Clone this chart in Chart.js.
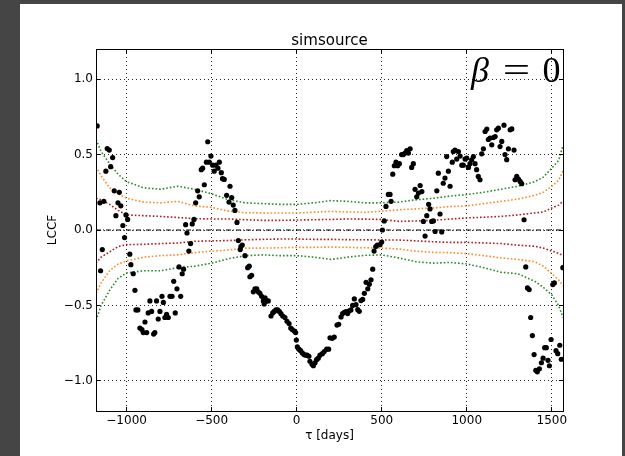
<!DOCTYPE html>
<html>
<head>
<meta charset="utf-8">
<title>simsource</title>
<script src="https://cdn.jsdelivr.net/npm/chart.js@4.4.1/dist/chart.umd.min.js"></script>
<style>
    html, body { margin: 0; padding: 0; }
    body { background: #454545; width: 625px; height: 456px; overflow: hidden; position: relative; }
    #fig { position: absolute; left: 20px; top: 4px; width: 602px; height: 452px; background: #fff; }
    canvas { display: block; }
</style>
</head>
<body>
<div id="fig"><canvas id="lccfChart" width="602" height="452"></canvas></div>
<script>
// LCCF of the simulated source (lag in days)
const tau = [
    -1173, -1157, -1153, -1143, -1134, -1122, -1114, -1102, -1094, -1082,
    -1073, -1063, -1051, -1043, -1034, -1022, -1012, -1004, -994, -981,
    -975, -961, -951, -945, -934, -922, -910, -902, -892, -882,
    -873, -863, -853, -841, -834, -824, -814, -804, -792, -784,
    -775, -765, -755, -745, -733, -723, -714, -704, -692, -682,
    -673, -665, -653, -645, -634, -624, -614, -604, -594, -582,
    -573, -561, -553, -543, -531, -523, -514, -504, -494, -485,
    -475, -463, -455, -443, -436, -426, -412, -398, -392, -382,
    -373, -363, -351, -343, -332, -328, -320, -304, -288, -279,
    -275, -265, -255, -245, -235, -226, -216, -206, -196, -191,
    -186, -176, -167, -151, -141, -132, -122, -112, -102, -92,
    -82, -69, -57, -45, -35, -26, -14, -6, -2, 4,
    13, 23, 33, 43, 53, 62, 72, 78, 90, 98,
    108, 117, 127, 137, 151, 162, 176, 188, 196, 209,
    221, 237, 247, 261, 270, 280, 290, 300, 309, 319,
    329, 339, 349, 359, 368, 378, 388, 398, 408, 418,
    427, 437, 447, 455, 465, 474, 490, 500, 504, 515,
    525, 539, 549, 555, 565, 574, 584, 594, 604, 617,
    627, 637, 647, 657, 667, 676, 686, 696, 706, 716,
    726, 736, 745, 755, 765, 776, 784, 794, 804, 814,
    824, 833, 843, 853, 862, 872, 882, 892, 902, 915,
    921, 931, 941, 951, 961, 971, 980, 990, 1000, 1010,
    1019, 1029, 1039, 1049, 1058, 1068, 1078, 1088, 1098, 1108,
    1118, 1127, 1137, 1147, 1157, 1167, 1176, 1186, 1196, 1206,
    1219, 1225, 1235, 1245, 1255, 1265, 1278, 1284, 1294, 1304,
    1314, 1323, 1337, 1347, 1357, 1367, 1376, 1386, 1396, 1406,
    1415, 1427, 1439, 1449, 1458, 1468, 1478, 1486, 1496, 1506,
    1515, 1525, 1535, 1547, 1556, 1565
];
const lccf = [
    0.69, 0.18, -0.27, -0.13, 0.19, 0.39, 0.54, 0.53, 0.42, 0.48,
    0.26, 0.095, 0.18, 0.25, 0.16, 0.03, -0.05, 0.10, 0.07, -0.16,
    -0.23, -0.29, -0.40, -0.53, -0.53, -0.65, -0.66, -0.68, -0.61, -0.68,
    -0.55, -0.47, -0.54, -0.69, -0.68, -0.47, -0.59, -0.54, -0.44, -0.48,
    -0.58, -0.56, -0.58, -0.44, -0.44, -0.34, -0.55, -0.39, -0.245, -0.44,
    -0.29, -0.26, 0.035, -0.02, -0.14, -0.09, 0.04, 0.07, 0.18, 0.26,
    0.22, 0.40, 0.41, 0.30, 0.45, 0.585, 0.45, 0.49, 0.43, 0.39,
    0.43, 0.41, 0.45, 0.38, 0.34, 0.335, 0.23, 0.185, 0.29, 0.215,
    0.165, 0.13, 0.05, -0.07, -0.13, -0.11, -0.10, -0.17, -0.25, -0.24,
    -0.31, -0.30, -0.41, -0.39, -0.39, -0.41, -0.42, -0.44, -0.47, -0.49,
    -0.45, -0.47, -0.47, -0.57, -0.55, -0.54, -0.53, -0.53, -0.54, -0.555,
    -0.57, -0.58, -0.605, -0.62, -0.65, -0.66, -0.67, -0.68, -0.73, -0.775,
    -0.79, -0.80, -0.815, -0.826, -0.83, -0.83, -0.837, -0.87, -0.89, -0.90,
    -0.88, -0.86, -0.85, -0.83, -0.82, -0.806, -0.79, -0.79, -0.715, -0.718,
    -0.71, -0.63, -0.625, -0.576, -0.554, -0.546, -0.541, -0.554, -0.536, -0.53,
    -0.50, -0.457, -0.495, -0.528, -0.539, -0.468, -0.46, -0.42, -0.347, -0.39,
    -0.36, -0.33, -0.26, -0.14, -0.11, -0.10, -0.097, -0.08, 0.0, 0.06,
    0.156, 0.236, 0.236, 0.19, 0.37, 0.426, 0.45, 0.426, 0.44, 0.50,
    0.50, 0.51, 0.527, 0.51, 0.538, 0.415, 0.44, 0.27, 0.22, 0.245,
    0.295, 0.255, 0.057, -0.04, 0.095, 0.17, 0.14, 0.057, 0.06, -0.01,
    0.26, 0.377, 0.106, -0.013, 0.31, 0.344, 0.487, 0.39, 0.29, 0.45,
    0.52, 0.53, 0.47, 0.52, 0.49, 0.43, 0.43, 0.47, 0.477, 0.415,
    0.44, 0.465, 0.487, 0.44, 0.40, 0.355, 0.333, 0.505, 0.538, 0.653,
    0.669, 0.60, 0.61, 0.565, 0.613, 0.62, 0.664, 0.675, 0.553, 0.587,
    0.695, 0.50, 0.466, 0.538, 0.664, 0.67, 0.53, 0.333, 0.355, 0.338,
    0.322, 0.307, 0.068, -0.245, -0.384, -0.395, -0.58, -0.70, -0.826, -0.93,
    -0.94, -0.92, -0.88, -0.85, -0.78, -0.78, -0.864, -0.90, -0.726, -0.362,
    -0.351, -0.80, -0.82, -0.764, -0.857, -0.25
];

// significance bands (upper / lower)
const bandTau = [-1180, -1150, -1100, -1050, -1000, -900, -800, -700, -600, -500, -400, -300, -200, -100, 0,
    100, 200, 300, 400, 500, 600, 700, 800, 900, 1000, 1100, 1200, 1300, 1400, 1450, 1500, 1540, 1566];
const greenHi = [0.60, 0.52, 0.44, 0.37, 0.32, 0.28, 0.27, 0.29, 0.27, 0.24, 0.20, 0.18, 0.175, 0.17, 0.17,
    0.18, 0.195, 0.19, 0.18, 0.18, 0.185, 0.20, 0.21, 0.225, 0.235, 0.25, 0.27, 0.29, 0.32, 0.35, 0.41, 0.46, 0.56];
const greenLo = [-0.60, -0.50, -0.40, -0.32, -0.285, -0.27, -0.27, -0.25, -0.24, -0.22, -0.19, -0.17, -0.165, -0.17, -0.17,
    -0.18, -0.195, -0.18, -0.168, -0.165, -0.185, -0.21, -0.22, -0.215, -0.225, -0.25, -0.28, -0.29, -0.34, -0.38, -0.43, -0.50, -0.58];
const orangeHi = [0.42, 0.36, 0.28, 0.24, 0.21, 0.185, 0.18, 0.19, 0.16, 0.15, 0.125, 0.115, 0.113, 0.113, 0.113,
    0.118, 0.123, 0.12, 0.117, 0.125, 0.134, 0.14, 0.146, 0.155, 0.16, 0.175, 0.19, 0.205, 0.23, 0.25, 0.29, 0.33, 0.39];
const orangeLo = [-0.42, -0.35, -0.27, -0.225, -0.205, -0.18, -0.17, -0.165, -0.15, -0.14, -0.133, -0.12, -0.12, -0.118, -0.115,
    -0.115, -0.113, -0.115, -0.118, -0.12, -0.126, -0.14, -0.148, -0.15, -0.157, -0.17, -0.185, -0.195, -0.21, -0.24, -0.29, -0.33, -0.37];
const redHi = [0.21, 0.20, 0.17, 0.13, 0.10, 0.095, 0.09, 0.083, 0.075, 0.073, 0.073, 0.068, 0.064, 0.064, 0.066,
    0.068, 0.07, 0.073, 0.072, 0.07, 0.057, 0.06, 0.064, 0.072, 0.08, 0.085, 0.09, 0.10, 0.113, 0.12, 0.146, 0.165, 0.19];
const redLo = [-0.22, -0.18, -0.145, -0.11, -0.097, -0.095, -0.09, -0.086, -0.075, -0.072, -0.07, -0.065, -0.062, -0.06, -0.06,
    -0.062, -0.062, -0.064, -0.065, -0.066, -0.066, -0.072, -0.078, -0.082, -0.082, -0.086, -0.09, -0.10, -0.108, -0.12, -0.14, -0.155, -0.17];

const xRange = [-1180, 1566];
const yRange = [-1.2, 1.2];
const xTicks = [-1000, -500, 0, 500, 1000, 1500];
const yTicks = [-1.0, -0.5, 0.0, 0.5, 1.0];

const FONT = '"DejaVu Sans", "Bitstream Vera Sans", sans-serif';
const minus = s => String(s).replace('-', '\u2212');

function band(values, color) {
    return {
        type: 'line',
        data: bandTau.map((t, i) => ({ x: t, y: values[i] })),
        borderColor: color,
        borderWidth: 1.6,
        borderDash: [1.6, 2],
        pointRadius: 0,
        tension: 0,
        fill: false
    };
}

// frame, inward ticks, title and beta label (matplotlib look)
const decorations = {
    id: 'decorations',
    afterDraw(chart) {
        const { ctx, chartArea: a, scales } = chart;
        const al = p => Math.round(p - 0.5) + 0.5;
        ctx.save();
        ctx.strokeStyle = '#000';
        ctx.lineWidth = 1;
        ctx.beginPath();
        xTicks.forEach(v => {
            const px = al(scales.x.getPixelForValue(v));
            ctx.moveTo(px, a.bottom); ctx.lineTo(px, a.bottom - 4);
            ctx.moveTo(px, a.top); ctx.lineTo(px, a.top + 4);
        });
        yTicks.forEach(v => {
            const py = al(scales.y.getPixelForValue(v));
            ctx.moveTo(a.left, py); ctx.lineTo(a.left + 4, py);
            ctx.moveTo(a.right, py); ctx.lineTo(a.right - 4, py);
        });
        ctx.stroke();
        ctx.strokeRect(al(a.left), al(a.top), Math.round(a.right - a.left), Math.round(a.bottom - a.top));

        ctx.fillStyle = '#000';
        ctx.font = '15px ' + FONT;
        ctx.textAlign = 'center';
        ctx.textBaseline = 'alphabetic';
        ctx.fillText('simsource', (a.left + a.right) / 2, a.top - 4);

        // beta = 0 in the upper right corner
        const base = a.top + 33;
        ctx.font = 'italic 36px "Liberation Serif", serif';
        ctx.textAlign = 'left';
        ctx.fillText('\u03b2', a.right - 92, base);
        ctx.font = '36px "Liberation Serif", serif';
        ctx.textAlign = 'center';
        ctx.save();
        ctx.translate(a.right - 46.5, base);
        ctx.scale(1.35, 1);
        ctx.fillText('=', 0, 0);
        ctx.restore();
        ctx.fillText('0', a.right - 11.5, base);
        ctx.restore();
    }
};

document.addEventListener('DOMContentLoaded', () => {
    const canvas = document.getElementById('lccfChart');

    new Chart(canvas, {
        type: 'scatter',
        data: {
            datasets: [
                {
                    label: 'LCCF',
                    data: tau.map((t, i) => ({ x: t, y: lccf[i] })),
                    backgroundColor: '#000',
                    borderWidth: 0,
                    pointRadius: 2.6,
                    showLine: false
                },
                band(redHi, '#b01c22'),
                band(redLo, '#b01c22'),
                band(orangeHi, '#ff8a2a'),
                band(orangeLo, '#ff8a2a'),
                band(greenHi, '#2a8a2a'),
                band(greenLo, '#2a8a2a'),
                {
                    type: 'line',
                    data: xRange.map(x => ({ x: x, y: 0 })),
                    borderColor: '#000',
                    borderWidth: 1,
                    borderDash: [5, 2, 1, 2],
                    pointRadius: 0
                }
            ]
        },
        options: {
            responsive: false,
            animation: false,
            devicePixelRatio: 1,
            layout: { padding: { left: 0, top: 45, right: 59, bottom: 0 } },
            plugins: {
                legend: { display: false },
                tooltip: { enabled: false }
            },
            scales: {
                x: {
                    type: 'linear',
                    position: 'bottom',
                    min: xRange[0],
                    max: xRange[1],
                    afterBuildTicks: s => { s.ticks = xTicks.map(v => ({ value: v })); },
                    afterFit: s => { s.height = 45; },
                    grid: { color: 'rgba(0,0,0,0.85)', lineWidth: 1, drawTicks: false },
                    border: { display: false, dash: [1, 3] },
                    ticks: {
                        color: '#000',
                        padding: 2.5,
                        maxRotation: 0,
                        font: { family: FONT, size: 12 },
                        callback: v => minus(v)
                    },
                    title: {
                        display: true,
                        text: '\u03c4 [days]',
                        color: '#000',
                        font: { family: FONT, size: 12 },
                        padding: { top: 0, bottom: 12.8 }
                    }
                },
                y: {
                    type: 'linear',
                    min: yRange[0],
                    max: yRange[1],
                    afterBuildTicks: s => { s.ticks = yTicks.map(v => ({ value: v })); },
                    afterFit: s => { s.width = 76; },
                    grid: { color: 'rgba(0,0,0,0.85)', lineWidth: 1, drawTicks: false },
                    border: { display: false, dash: [1, 3] },
                    ticks: {
                        color: '#000',
                        padding: 3,
                        font: { family: FONT, size: 12 },
                        callback: v => minus(v.toFixed(1))
                    },
                    title: {
                        display: true,
                        text: 'LCCF',
                        color: '#000',
                        font: { family: FONT, size: 12 },
                        padding: { top: 26, bottom: 0 }
                    }
                }
            }
        },
        plugins: [decorations]
    });
});
</script>
</body>
</html>
